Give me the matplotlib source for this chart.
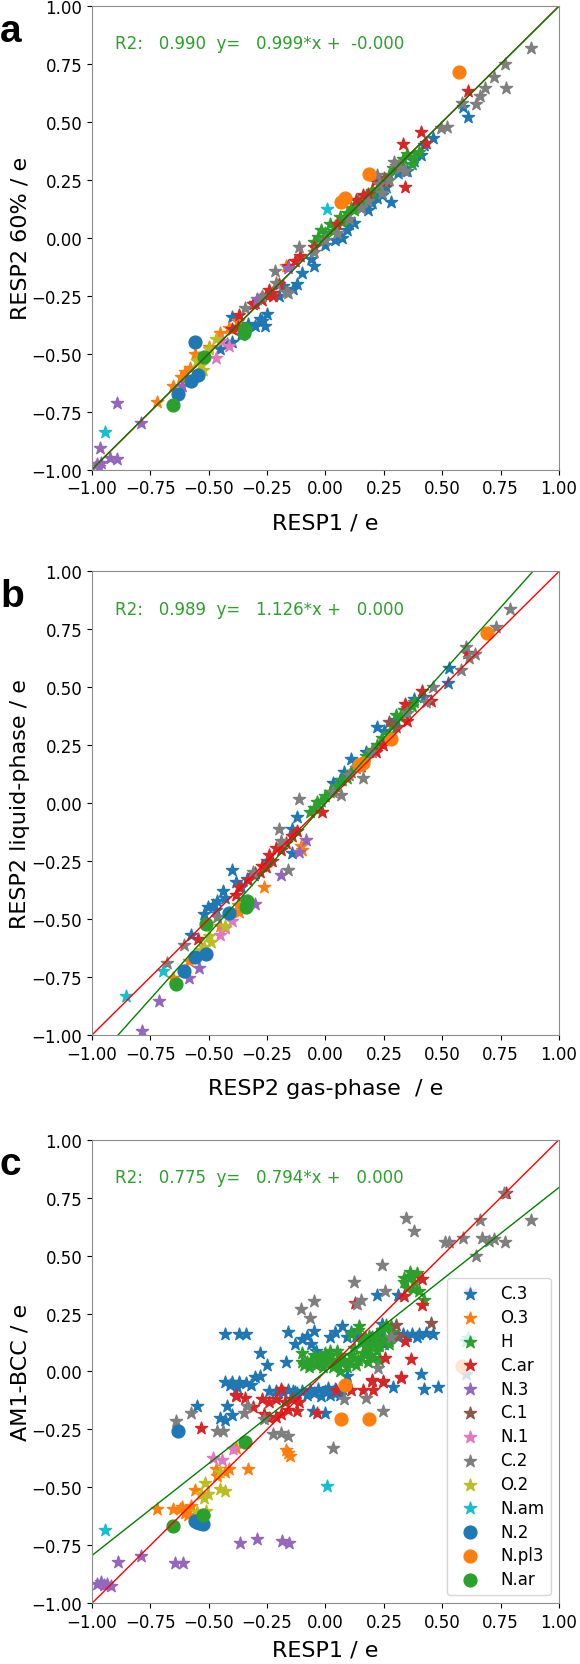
import numpy as np
import matplotlib
matplotlib.use("Agg")
import matplotlib.pyplot as plt

atom_types = ['C.3', 'O.3', 'H', 'C.ar', 'N.3', 'C.1', 'N.1', 'C.2', 'O.2', 'N.am', 'N.2', 'N.pl3', 'N.ar']

# fit results per panel
r2_vals = [0.990, 0.989, 0.775]
slopes = [0.999, 1.126, 0.794]
intercepts = [-0.0, 0.0, 0.0]
panel_letters = ['a', 'b', 'c']
x_labels = ['RESP1 / e', 'RESP2 gas-phase  / e', 'RESP1 / e']
y_labels = ['RESP2 60% / e', 'RESP2 liquid-phase / e', 'AM1-BCC / e']
ticks = [-1.0, -0.75, -0.5, -0.25, 0.0, 0.25, 0.5, 0.75, 1.0]

# ---- panel a : RESP1 vs RESP2 60% ----
a_C3 = [(0.59, 0.565), (0.61, 0.52), (0.46, 0.43), (0.41, 0.355), (0.35, 0.29), (0.31, 0.28),
        (0.28, 0.155), (0.24, 0.185), (0.18, 0.12), (0.12, 0.065), (0.09, 0.035), (0.07, 0.0),
        (0.04, -0.01), (-0.05, -0.12), (-0.06, -0.09), (-0.12, -0.2), (0.42, 0.40), (0.15, 0.13),
        (0.0, -0.03), (-0.18, -0.21), (-0.2, -0.25), (-0.25, -0.33), (-0.28, -0.35), (-0.3, -0.38),
        (-0.26, -0.38), (-0.33, -0.37), (-0.4, -0.45), (-0.42, -0.46), (-0.45, -0.48), (-0.4, -0.34),
        (-0.14, -0.22), (0.2, 0.15), (0.26, 0.22), (0.33, 0.30), (0.22, 0.17), (0.1, 0.06),
        (-0.1, -0.15), (-0.27, -0.36), (-0.36, -0.42), (0.38, 0.33)]
a_O3 = [(-0.17, -0.12), (-0.375, -0.36), (-0.415, -0.39), (-0.45, -0.41), (-0.56, -0.5), (-0.58, -0.56),
        (-0.6, -0.58), (-0.62, -0.6), (-0.655, -0.64), (-0.72, -0.71), (-0.5, -0.47), (-0.54, -0.52)]
a_H = [(0.40, 0.37), (0.38, 0.35), (0.37, 0.32), (0.33, 0.34), (0.29, 0.3), (0.19, 0.19), (0.16, 0.165),
       (0.11, 0.13), (0.06, 0.09), (0.02, 0.06), (-0.02, 0.035), (-0.03, 0.005), (-0.05, -0.02),
       (0.175, 0.18), (0.09, 0.105), (0.13, 0.14), (0.22, 0.21), (0.25, 0.24), (0.0, 0.02),
       (0.04, 0.05), (0.08, 0.08), (0.14, 0.16), (0.2, 0.2), (0.27, 0.27), (0.31, 0.31),
       (0.35, 0.36), (0.12, 0.12), (0.07, 0.07), (-0.01, 0.0), (0.03, 0.03), (0.15, 0.14)]
a_Car = [(0.61, 0.635), (0.41, 0.455), (0.33, 0.405), (0.34, 0.22), (0.26, 0.245), (0.21, 0.245),
         (0.16, 0.185), (0.13, 0.165), (0.43, 0.41), (-0.11, -0.08), (-0.16, -0.12), (-0.24, -0.225),
         (-0.255, -0.245), (-0.225, -0.25), (-0.31, -0.285), (-0.375, -0.385), (-0.4, -0.395),
         (-0.37, -0.335), (-0.3, -0.28), (-0.2, -0.2), (-0.05, -0.04), (0.05, 0.06),
         (-0.23, -0.24), (-0.27, -0.27), (0.18, 0.19), (-0.13, -0.1)]
a_N3 = [(-0.895, -0.715), (-0.965, -0.905), (-0.96, -0.97), (-0.98, -0.975), (-0.925, -0.95),
        (-0.895, -0.955), (-0.79, -0.8), (-0.615, -0.64), (-0.295, -0.265), (-0.16, -0.13), (-0.97, -0.99)]
a_C1 = [(0.3, 0.31), (0.25, 0.26)]
a_N1 = [(-0.467, -0.52), (-0.415, -0.465), (-0.448, -0.445)]
a_C2 = [(0.88, 0.82), (0.77, 0.75), (0.775, 0.645), (0.72, 0.695), (0.685, 0.645), (0.66, 0.61),
        (0.645, 0.575), (0.585, 0.58), (0.52, 0.48), (0.495, 0.475), (0.295, 0.325), (0.23, 0.23),
        (0.22, 0.27), (0.34, 0.29), (0.24, 0.195), (-0.115, -0.04), (-0.215, -0.145), (-0.16, -0.24),
        (-0.345, -0.305), (-0.17, -0.235), (-0.21, -0.195), (-0.27, -0.25), (0.1, 0.08), (0.05, 0.02),
        (0.15, 0.13), (0.18, 0.16), (0.27, 0.25), (0.32, 0.3), (-0.05, -0.06), (0.0, -0.01)]
a_O2 = [(-0.47, -0.435), (-0.535, -0.55), (-0.55, -0.53), (-0.5, -0.48), (-0.525, -0.57)]
a_Nam = [(-0.945, -0.84), (0.005, 0.125)]
a_N2 = [(-0.56, -0.45), (-0.575, -0.62), (-0.545, -0.59), (-0.63, -0.675)]
a_Npl3 = [(0.57, 0.715), (0.185, 0.275), (0.065, 0.155), (0.085, 0.17)]
a_Nar = [(-0.52, -0.515), (-0.655, -0.72), (-0.345, -0.395), (-0.35, -0.41)]

# ---- panel b : RESP2 gas-phase vs RESP2 liquid-phase ----
b_C3 = [(0.53, 0.585), (0.525, 0.52), (0.38, 0.45), (0.22, 0.33), (0.11, 0.19), (0.08, 0.135),
        (0.03, 0.085), (0.175, 0.22), (-0.12, -0.06), (-0.145, -0.11), (-0.4, -0.29), (-0.385, -0.34),
        (-0.43, -0.41), (-0.465, -0.42), (-0.505, -0.45), (-0.47, -0.46), (-0.575, -0.57),
        (-0.145, -0.215), (-0.335, -0.325), (-0.305, -0.31), (0.42, 0.46), (0.3, 0.36), (0.25, 0.31),
        (-0.44, -0.38), (-0.48, -0.44), (-0.36, -0.36), (-0.25, -0.25), (0.06, 0.1), (-0.52, -0.48)]
b_O3 = [(-0.265, -0.36), (-0.37, -0.47), (-0.375, -0.44), (-0.585, -0.68), (-0.655, -0.755),
        (-0.105, -0.185), (-0.1, -0.2), (-0.45, -0.53)]
b_H = [(0.38, 0.435), (0.335, 0.4), (0.3, 0.38), (0.175, 0.205), (0.11, 0.135), (0.045, 0.075),
       (0.0, 0.03), (-0.035, 0.005), (0.24, 0.28), (0.285, 0.335), (-0.065, -0.04), (0.35, 0.41),
       (0.2, 0.23), (0.14, 0.16), (0.07, 0.1), (0.02, 0.05), (-0.05, -0.02), (0.32, 0.37),
       (0.27, 0.3), (0.22, 0.25), (0.16, 0.18), (0.09, 0.11), (-0.02, 0.01), (0.37, 0.42)]
b_Car = [(0.605, 0.65), (0.415, 0.485), (0.34, 0.43), (0.35, 0.355), (0.245, 0.25), (0.215, 0.22),
         (-0.015, -0.04), (-0.145, -0.14), (-0.255, -0.275), (-0.28, -0.295), (-0.37, -0.36),
         (-0.385, -0.395), (-0.545, -0.585), (-0.24, -0.225), (-0.21, -0.195), (-0.17, -0.17),
         (-0.3, -0.3), (-0.12, -0.12), (0.15, 0.16), (0.45, 0.44), (-0.23, -0.25), (-0.19, -0.2),
         (-0.27, -0.27), (-0.33, -0.33)]
b_N3 = [(-0.085, -0.16), (-0.115, -0.21), (-0.19, -0.31), (-0.3, -0.435), (-0.54, -0.71),
        (-0.585, -0.755), (-0.715, -0.855), (-0.785, -0.985)]
b_C1 = [(0.27, 0.35), (0.3, 0.33)]
b_N1 = [(-0.45, -0.57), (-0.4, -0.51), (-0.43, -0.54)]
b_C2 = [(0.79, 0.84), (0.73, 0.76), (0.6, 0.675), (0.64, 0.645), (0.58, 0.575), (0.615, 0.625),
        (0.46, 0.5), (0.43, 0.435), (0.16, 0.11), (0.065, 0.035), (-0.115, 0.02), (-0.2, -0.11),
        (-0.19, -0.165), (-0.16, -0.29), (-0.31, -0.295), (-0.605, -0.61), (-0.68, -0.69),
        (-0.465, -0.49), (0.35, 0.39), (0.2, 0.22), (0.1, 0.12), (0.13, 0.15), (0.03, 0.05)]
b_O2 = [(-0.43, -0.53), (-0.49, -0.6), (-0.52, -0.62), (-0.5, -0.575), (-0.535, -0.635)]
b_Nam = [(-0.855, -0.83), (-0.695, -0.725)]
b_N2 = [(-0.415, -0.475), (-0.51, -0.65), (-0.56, -0.665), (-0.605, -0.725)]
b_Npl3 = [(0.69, 0.735), (0.28, 0.275), (0.16, 0.175), (0.145, 0.165)]
b_Nar = [(-0.335, -0.42), (-0.34, -0.45), (-0.51, -0.52), (-0.64, -0.78)]

# ---- panel c : RESP1 vs AM1-BCC ----
c_C3 = [(-0.43, 0.16), (-0.37, 0.16), (-0.34, 0.16), (-0.16, 0.17), (-0.08, 0.155), (-0.05, 0.175),
        (0.04, 0.17), (0.07, 0.195), (0.11, 0.17), (0.24, 0.145), (0.29, 0.16), (0.33, 0.16),
        (0.37, 0.16), (0.40, 0.16), (0.43, 0.165), (0.46, 0.16), (0.13, 0.155), (0.16, 0.14),
        (0.2, 0.15), (0.27, 0.13), (0.25, 0.12), (0.18, 0.1), (0.22, 0.33), (0.31, 0.33), (0.24, 0.205),
        (0.31, 0.15), (0.35, 0.155), (0.39, 0.15), (0.22, 0.13), (0.02, 0.15), (0.09, 0.15),
        (-0.28, 0.08), (-0.25, 0.03), (-0.17, 0.04), (-0.13, 0.12), (-0.06, 0.12), (-0.04, 0.09),
        (-0.1, 0.14), (0.09, -0.02),
        (-0.43, -0.045), (-0.4, -0.045), (-0.37, -0.045), (-0.34, -0.05), (-0.3, -0.025), (-0.32, -0.06),
        (-0.41, -0.06), (-0.38, -0.065), (-0.28, -0.02),
        (-0.24, -0.085), (-0.21, -0.085), (-0.18, -0.09), (-0.14, -0.085), (-0.1, -0.085),
        (-0.065, -0.08), (-0.03, -0.075), (0.0, -0.085), (0.03, -0.09), (-0.02, -0.105), (-0.05, -0.095),
        (0.01, -0.07), (0.04, -0.075), (0.07, -0.075), (-0.12, -0.095), (0.05, -0.09),
        (-0.08, -0.1), (0.02, -0.1), (-0.16, -0.08), (0.06, -0.1),
        (-0.55, -0.15), (-0.42, -0.15), (-0.45, -0.2), (-0.4, -0.19), (-0.43, -0.21), (0.29, -0.065),
        (0.41, -0.01), (0.6, -0.01), (0.48, -0.065), (0.42, -0.075), (0.0, -0.18), (-0.055, -0.17),
        (-0.13, -0.09)]
c_O3 = [(-0.72, -0.595), (-0.655, -0.595), (-0.625, -0.595), (-0.59, -0.6), (-0.615, -0.585),
        (-0.575, -0.58), (-0.56, -0.51), (-0.47, -0.42), (-0.43, -0.435), (-0.415, -0.42),
        (-0.465, -0.45), (-0.385, -0.33), (-0.33, -0.42), (-0.16, -0.35), (-0.15, -0.365),
        (-0.17, -0.34), (-0.59, -0.62), (-0.6, -0.61)]
c_H = [(-0.08, 0.04), (-0.06, 0.05), (-0.04, 0.03), (-0.02, 0.06), (0.0, 0.04), (0.02, 0.05),
       (0.04, 0.03), (0.06, 0.07), (0.08, 0.05), (0.1, 0.04), (0.12, 0.06), (0.14, 0.05), (0.16, 0.08),
       (0.18, 0.04), (0.2, 0.06), (-0.05, 0.07), (0.0, 0.08), (0.05, 0.09), (-0.07, 0.02), (0.03, 0.02),
       (0.09, 0.02), (0.12, 0.1), (0.15, 0.13), (0.17, 0.15), (0.2, 0.12), (0.22, 0.16), (0.25, 0.14),
       (0.27, 0.12), (0.24, 0.18), (0.26, 0.2), (0.28, 0.17), (0.11, 0.16), (0.14, 0.18), (-0.1, 0.04),
       (0.18, 0.1), (0.22, 0.09), (0.23, 0.05), (0.335, 0.405), (0.365, 0.41), (0.39, 0.425),
       (0.35, 0.36), (0.375, 0.355), (0.4, 0.345), (0.42, 0.31), (0.335, 0.385), (0.38, 0.385),
       (0.36, 0.43), (-0.1, 0.08), (0.145, 0.195), (0.28, 0.195), (0.185, 0.155),
       (-0.09, 0.03), (-0.03, 0.05), (0.01, 0.06), (0.07, 0.04), (0.11, 0.07), (0.15, 0.06),
       (0.19, 0.07), (-0.01, 0.02), (0.05, 0.05), (0.13, 0.03), (0.17, 0.11), (0.21, 0.14),
       (0.23, 0.11), (0.06, 0.0), (0.02, 0.09)]
c_Car = [(0.335, 0.325), (0.415, 0.4), (0.415, 0.285), (0.34, 0.13), (0.255, 0.06), (0.365, 0.055),
         (0.325, -0.025), (0.2, -0.035), (0.245, -0.04), (0.125, 0.295), (-0.19, -0.075), (-0.385, -0.1),
         (-0.385, -0.105), (-0.345, -0.115), (-0.31, -0.155), (-0.27, -0.12), (-0.24, -0.13),
         (-0.21, -0.12), (-0.175, -0.13), (-0.145, -0.12), (-0.115, -0.13), (-0.19, -0.185),
         (-0.24, -0.2), (-0.21, -0.195), (-0.12, -0.17), (-0.035, -0.18), (-0.535, -0.245),
         (0.045, -0.08), (0.11, -0.08), (0.16, -0.08), (0.205, -0.08), (0.245, -0.045), (0.2, -0.04),
         (0.325, -0.03), (-0.265, -0.185), (-0.16, -0.165), (0.775, 0.77)]
c_N3 = [(-0.98, -0.915), (-0.96, -0.91), (-0.935, -0.915), (-0.95, -0.92), (-0.92, -0.925),
        (-0.89, -0.82), (-0.79, -0.795), (-0.645, -0.825), (-0.61, -0.825), (-0.365, -0.74),
        (-0.295, -0.725), (-0.185, -0.73), (-0.155, -0.74)]
c_C1 = [(0.45, 0.21), (0.31, 0.155), (0.3, 0.2)]
c_N1 = [(-0.48, -0.375), (-0.445, -0.38), (-0.395, -0.335), (0.62, 0.345)]
c_C2 = [(0.345, 0.66), (0.38, 0.605), (0.24, 0.46), (0.12, 0.385), (0.15, 0.31), (0.135, 0.29),
        (-0.105, 0.27), (-0.05, 0.305), (-0.065, 0.23), (0.255, 0.345), (0.51, 0.56), (0.53, 0.56),
        (0.59, 0.575), (0.66, 0.655), (0.88, 0.655), (0.67, 0.575), (0.7, 0.565), (0.72, 0.57),
        (0.77, 0.56), (0.645, 0.5), (0.225, 0.015), (0.28, 0.15), (-0.64, -0.215), (-0.575, -0.18),
        (-0.465, -0.255), (-0.44, -0.255), (-0.35, -0.18), (-0.335, -0.15), (-0.265, -0.205),
        (-0.225, -0.27), (-0.19, -0.265), (-0.16, -0.28), (0.03, -0.33), (0.08, -0.12), (0.175, -0.115),
        (0.245, -0.17), (0.765, 0.77)]
c_O2 = [(-0.515, -0.48), (-0.535, -0.53), (-0.505, -0.53), (-0.45, -0.435), (-0.45, -0.505),
        (-0.43, -0.515), (-0.55, -0.605), (-0.51, -0.6), (-0.52, -0.545)]
c_Nam = [(-0.945, -0.685), (0.005, -0.495), (0.61, 0.145), (0.6, 0.13)]
c_N2 = [(-0.63, -0.255), (-0.56, -0.645), (-0.55, -0.65), (-0.54, -0.655), (-0.525, -0.66)]
c_Npl3 = [(0.085, -0.06), (0.065, -0.205), (0.185, -0.205), (0.585, 0.025)]
c_Nar = [(-0.345, -0.305), (-0.525, -0.62), (-0.655, -0.665)]

panels = [
    [a_C3, a_O3, a_H, a_Car, a_N3, a_C1, a_N1, a_C2, a_O2, a_Nam, a_N2, a_Npl3, a_Nar],
    [b_C3, b_O3, b_H, b_Car, b_N3, b_C1, b_N1, b_C2, b_O2, b_Nam, b_N2, b_Npl3, b_Nar],
    [c_C3, c_O3, c_H, c_Car, c_N3, c_C1, c_N1, c_C2, c_O2, c_Nam, c_N2, c_Npl3, c_Nar],
]

tab10 = plt.rcParams['axes.prop_cycle'].by_key()['color']
colors = tab10[:10] + tab10[:3]
markers = ['*'] * 10 + ['o'] * 3

fig = plt.figure(figsize=(5.8, 16.65), dpi=100)
bottoms = [0.7174, 0.3778, 0.0365]
xlabel_pads = [11, 11, 6]

for k in range(3):
    ax = fig.add_axes([0.1586, bottoms[k], 0.8052, 0.2784])
    for pts, name, col, mk in zip(panels[k], atom_types, colors, markers):
        arr = np.array(pts)
        ax.scatter(arr[:, 0], arr[:, 1], s=85, marker=mk, color=col, label=name)
    xl = np.array([-1.0, 1.0])
    ax.plot(xl, xl, color='r', lw=1.0)
    ax.plot(xl, slopes[k] * xl + intercepts[k], color='g', lw=1.0)
    ax.set_xlim(-1, 1)
    ax.set_ylim(-1, 1)
    ax.set_xticks(ticks)
    ax.set_yticks(ticks)
    ax.xaxis.set_major_formatter('{x:.2f}')
    ax.yaxis.set_major_formatter('{x:.2f}')
    ax.tick_params(labelsize=12)
    for sp in ax.spines.values():
        sp.set_color('0.55')
    ax.set_xlabel(x_labels[k], fontsize=16, labelpad=xlabel_pads[k])
    ax.set_ylabel(y_labels[k], fontsize=16, labelpad=1)
    txt = 'R2: %7.3f  y= %7.3f*x + %7.3f' % (r2_vals[k], slopes[k], intercepts[k])
    ax.text(0.05, 0.9, txt, transform=ax.transAxes, color='tab:green', fontsize=12, va='bottom')
    ax.text(-0.197, 0.925, panel_letters[k], transform=ax.transAxes, fontsize=28,
            fontweight='bold', family='Liberation Sans', ha='left', va='baseline')
    if k == 2:
        ax.legend(loc='lower right', fontsize=12, labelspacing=0.35)

fig.savefig('out.png', dpi=100)
